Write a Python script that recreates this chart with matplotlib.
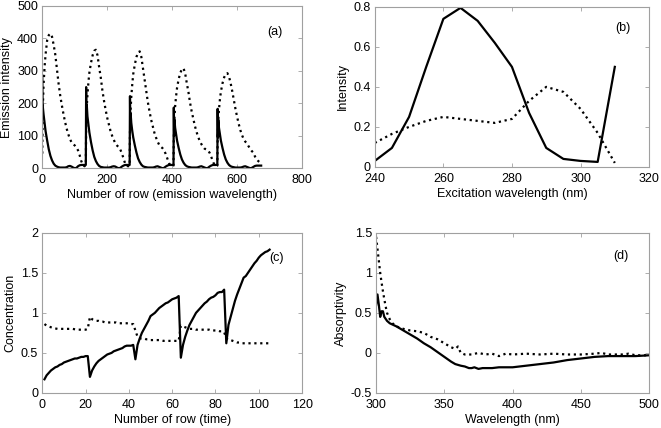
import numpy as np
import matplotlib.pyplot as plt

plt.rcParams['font.family'] = ['Liberation Sans', 'DejaVu Sans']

# ---- panel (a): emission profiles, 5 stacked blocks of 135 rows
seg_start = [0, 135, 270, 405, 540]
rel_row = [0, 1, 2, 4, 7, 10, 15, 20, 25, 30, 35, 40, 45, 50, 55, 60, 65,
           70, 75, 80, 85, 90, 95, 100, 105, 110, 115, 120, 125, 130, 134]

em_solid = [
    [285, 200, 185, 165, 140, 115, 85, 58, 38, 24, 14, 8, 5, 3, 2, 2, 2,
     2, 3, 6, 7, 5, 2, 0, 1, 6, 9, 10, 10, 10, 10],
    [250, 145, 195, 160, 135, 110, 80, 55, 35, 22, 13, 7, 4, 3, 2, 2, 2,
     2, 3, 5, 6, 5, 2, 0, 1, 5, 8, 10, 10, 10, 10],
    [222, 120, 170, 140, 115, 95, 70, 48, 30, 19, 11, 6, 4, 3, 2, 2, 2,
     2, 3, 5, 6, 4, 2, 0, 1, 5, 8, 10, 10, 10, 10],
    [187, 100, 150, 125, 105, 85, 62, 42, 27, 17, 10, 6, 4, 3, 2, 2, 2,
     2, 3, 5, 6, 4, 2, 0, 1, 5, 8, 10, 10, 10, 10],
    [183, 95, 150, 125, 105, 85, 62, 42, 27, 17, 10, 6, 4, 3, 2, 2, 2,
     2, 3, 5, 6, 4, 2, 0, 1, 4, 7, 8, 8, 8, 8],
]
em_dotted = [
    [45, 140, 200, 260, 312, 350, 395, 410, 415, 405, 380, 350, 305, 262,
     225, 195, 168, 143, 122, 105, 90, 80, 74, 70, 64, 55, 40, 22, 10, 6, 10],
    [120, 160, 190, 225, 265, 295, 325, 348, 362, 365, 348, 312, 280, 240,
     208, 180, 155, 135, 115, 100, 88, 76, 70, 65, 58, 46, 30, 15, 7, 6, 8],
    [110, 150, 180, 220, 258, 290, 320, 343, 357, 360, 343, 308, 275, 236,
     204, 176, 150, 130, 110, 95, 82, 72, 66, 62, 55, 44, 30, 16, 8, 6, 8],
    [95, 130, 155, 190, 222, 248, 275, 294, 305, 308, 292, 262, 235, 202,
     175, 152, 130, 112, 96, 84, 74, 66, 60, 58, 55, 48, 36, 22, 10, 6, 8],
    [90, 125, 148, 180, 212, 236, 262, 280, 290, 293, 282, 262, 237, 210,
     182, 158, 136, 117, 102, 90, 82, 77, 68, 60, 53, 48, 36, 28, 22, 18, 15],
]

# ---- panel (b): excitation profiles
ex_wl = [240, 245, 250, 255, 260, 265, 270, 275, 280, 285, 290, 295, 300, 305, 310]
ex_solid = [0.03, 0.095, 0.25, 0.5, 0.74, 0.795, 0.73, 0.62, 0.5, 0.27,
            0.095, 0.04, 0.03, 0.025, 0.5]
ex_dotted = [0.12, 0.165, 0.2, 0.23, 0.25, 0.24, 0.23, 0.22, 0.24, 0.33,
             0.4, 0.375, 0.29, 0.17, 0.02]

# ---- panel (c): concentration profiles, rows 1..105
conc_solid = [0.17, 0.22, 0.25, 0.28, 0.30, 0.32, 0.33, 0.35, 0.36, 0.38, 0.39,
              0.40, 0.41, 0.42, 0.43, 0.43, 0.44, 0.45, 0.45, 0.46, 0.46,
              0.20, 0.28, 0.33, 0.37, 0.40, 0.42, 0.44, 0.46, 0.48, 0.49, 0.50,
              0.52, 0.53, 0.54, 0.55, 0.56, 0.58, 0.59, 0.59, 0.59, 0.60,
              0.42, 0.60, 0.68, 0.75, 0.80, 0.85, 0.90, 0.96, 0.98, 1.00, 1.03,
              1.06, 1.08, 1.10, 1.12, 1.13, 1.15, 1.17, 1.18, 1.19, 1.21,
              0.44, 0.60, 0.70, 0.78, 0.85, 0.90, 0.95, 1.00, 1.03, 1.06, 1.09,
              1.12, 1.14, 1.17, 1.19, 1.20, 1.22, 1.25, 1.26, 1.26, 1.29,
              0.62, 0.85, 0.95, 1.05, 1.15, 1.23, 1.30, 1.37, 1.44, 1.46, 1.50,
              1.54, 1.58, 1.62, 1.65, 1.69, 1.72, 1.74, 1.76, 1.77, 1.79]
conc_dotted = [0.86, 0.84, 0.83, 0.82, 0.81, 0.805, 0.80, 0.80, 0.80, 0.80, 0.80,
               0.80, 0.80, 0.80, 0.795, 0.79, 0.79, 0.79, 0.79, 0.79, 0.80,
               0.95, 0.92, 0.91, 0.90, 0.90, 0.89, 0.89, 0.88, 0.88, 0.88, 0.88,
               0.88, 0.88, 0.87, 0.87, 0.87, 0.87, 0.87, 0.87, 0.86, 0.86,
               0.78, 0.70, 0.68, 0.68, 0.68, 0.67, 0.67, 0.66, 0.66, 0.66, 0.66,
               0.66, 0.66, 0.65, 0.65, 0.65, 0.65, 0.65, 0.65, 0.65, 0.65,
               0.84, 0.83, 0.82, 0.81, 0.80, 0.80, 0.80, 0.79, 0.79, 0.79, 0.79,
               0.79, 0.79, 0.79, 0.78, 0.78, 0.78, 0.78, 0.77, 0.77, 0.76,
               0.68, 0.66, 0.66, 0.65, 0.64, 0.63, 0.63, 0.62, 0.62, 0.62, 0.62,
               0.62, 0.62, 0.62, 0.62, 0.62, 0.62, 0.62, 0.62, 0.62, 0.62]

# ---- panel (d): absorptivity spectra
ab_wl_s = [300, 301, 302, 303, 304, 305, 306, 308, 310, 315, 320, 325, 330,
           335, 340, 345, 350, 355, 358, 360, 362, 365, 368, 370, 372, 375,
           378, 380, 385, 390, 395, 400, 410, 420, 430, 440, 450, 460, 470,
           480, 490, 500]
ab_solid = [0.6, 0.73, 0.6, 0.45, 0.52, 0.52, 0.45, 0.4, 0.37, 0.33, 0.28,
            0.23, 0.18, 0.12, 0.07, 0.01, -0.05, -0.11, -0.14, -0.15, -0.16,
            -0.17, -0.19, -0.19, -0.18, -0.2, -0.19, -0.19, -0.19, -0.18,
            -0.18, -0.18, -0.16, -0.14, -0.12, -0.09, -0.07, -0.05, -0.04,
            -0.04, -0.04, -0.03]
ab_wl_d = [300, 301, 302, 303, 304, 305, 306, 307, 308, 310, 312, 315, 320,
           325, 330, 335, 340, 345, 350, 355, 358, 360, 362, 365, 370, 375,
           380, 385, 390, 395, 400, 410, 420, 430, 440, 450, 460, 465, 470,
           480, 485, 490, 500]
ab_dotted = [1.45, 1.3, 1.15, 1.0, 0.88, 0.77, 0.67, 0.58, 0.5, 0.42, 0.37,
             0.33, 0.3, 0.28, 0.27, 0.25, 0.2, 0.17, 0.12, 0.07, 0.05, 0.08,
             0.0, -0.02, -0.02, 0.0, -0.02, -0.01, -0.04, -0.01, -0.02, -0.01,
             -0.02, -0.01, -0.02, -0.02, -0.01, 0.0, -0.02, -0.02, -0.01,
             -0.03, -0.03]

frame = '#a0a0a0'
fs = 9


def style(ax, xlim, ylim, xticks, yticks, xlabel, ylabel, tag, tagpos):
    ax.set_xlim(xlim)
    ax.set_ylim(ylim)
    ax.set_xticks(xticks)
    ax.set_yticks(yticks)
    ax.set_xlabel(xlabel, fontsize=fs, labelpad=2)
    ax.set_ylabel(ylabel, fontsize=fs, labelpad=3)
    ax.tick_params(direction='in', length=3, width=0.6, color=frame,
                   labelsize=fs, top=True, right=True)
    ax.tick_params(axis='x', pad=4.5)
    ax.tick_params(axis='y', pad=3)
    for sp in ax.spines.values():
        sp.set_color(frame)
        sp.set_linewidth(0.8)
    ax.text(tagpos[0], tagpos[1], tag, transform=ax.transAxes,
            fontsize=fs, ha='center', va='center')


fig = plt.figure(figsize=(6.61, 4.28), dpi=100)
ax_a = fig.add_axes([0.064, 0.607, 0.393, 0.379])
ax_b = fig.add_axes([0.567, 0.610, 0.415, 0.374])
ax_c = fig.add_axes([0.064, 0.082, 0.393, 0.374])
ax_d = fig.add_axes([0.569, 0.082, 0.413, 0.374])

# (a)
xa = np.concatenate([np.array(rel_row) + s for s in seg_start])
ax_a.plot(xa, np.concatenate(em_solid), 'k-', lw=1.6)
ax_a.plot(xa, np.concatenate(em_dotted), 'k:', lw=1.6)
style(ax_a, (0, 800), (0, 500), [0, 200, 400, 600, 800],
      [0, 100, 200, 300, 400, 500],
      'Number of row (emission wavelength)', 'Emission intensity',
      '(a)', (0.895, 0.84))

# (b)
ax_b.plot(ex_wl, ex_solid, 'k-', lw=1.6)
ax_b.plot(ex_wl, ex_dotted, 'k:', lw=1.6)
style(ax_b, (240, 320), (0, 0.8), [240, 260, 280, 300, 320],
      [0, 0.2, 0.4, 0.6, 0.8], 'Excitation wavelength (nm)', 'Intensity',
      '(b)', (0.905, 0.87))
ax_b.set_yticklabels(['0', '0.2', '0.4', '0.6', '0.8'])

# (c)
rows = np.arange(1, len(conc_solid) + 1)
ax_c.plot(rows, conc_solid, 'k-', lw=1.6)
ax_c.plot(rows, conc_dotted, 'k:', lw=1.6)
style(ax_c, (0, 120), (0, 2), [0, 20, 40, 60, 80, 100, 120],
      [0, 0.5, 1, 1.5, 2], 'Number of row (time)', 'Concentration',
      '(c)', (0.9, 0.845))
ax_c.set_yticklabels(['0', '0.5', '1', '1.5', '2'])

# (d)
ax_d.plot(ab_wl_s, ab_solid, 'k-', lw=1.6)
ax_d.plot(ab_wl_d, ab_dotted, 'k:', lw=1.6)
style(ax_d, (300, 500), (-0.5, 1.5), [300, 350, 400, 450, 500],
      [-0.5, 0, 0.5, 1, 1.5], 'Wavelength (nm)', 'Absorptivity',
      '(d)', (0.895, 0.855))
ax_d.set_yticklabels(['-0.5', '0', '0.5', '1', '1.5'])

fig.savefig('out.png', dpi=100)
